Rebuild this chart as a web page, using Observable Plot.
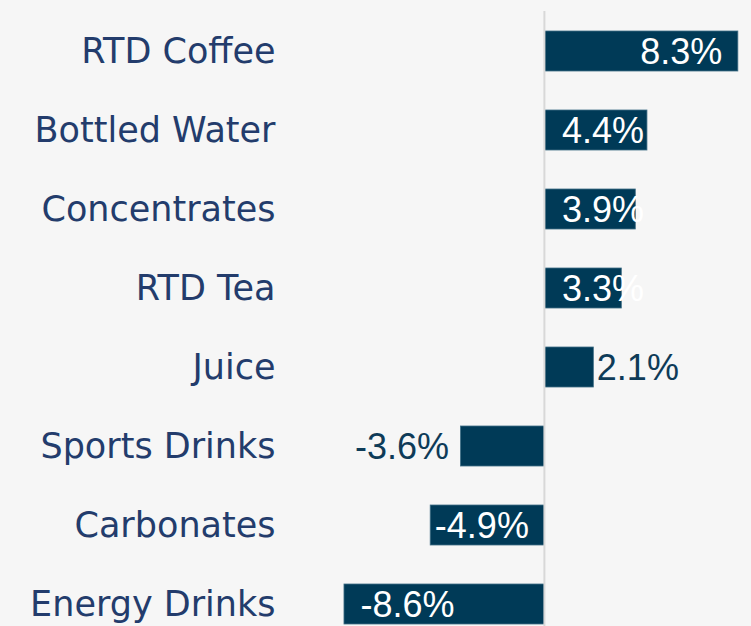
<!DOCTYPE html>
<html>
<head>
<meta charset="utf-8">
<script src="https://cdn.jsdelivr.net/npm/d3@7"></script>
<script src="https://cdn.jsdelivr.net/npm/@observablehq/plot@0.6"></script>
<style>
  html, body { margin: 0; padding: 0; background: #f6f6f6; overflow: hidden; }
  #chart { width: 751px; height: 626px; overflow: hidden; }
  #chart svg { display: block; background: transparent; }
</style>
</head>
<body>
<div id="chart"></div>
<script>
const categories = ["RTD Coffee", "Bottled Water", "Concentrates", "RTD Tea", "Juice", "Sports Drinks", "Carbonates", "Energy Drinks"];
const values = [8.3, 4.4, 3.9, 3.3, 2.1, -3.6, -4.9, -8.6];
const valueLabels = ["8.3%", "4.4%", "3.9%", "3.3%", "2.1%", "-3.6%", "-4.9%", "-8.6%"];

const data = categories.map((c, i) => ({category: c, value: values[i], label: valueLabels[i]}));

const outsideSet = new Set(["Juice", "Sports Drinks"]);
const fits = d => Math.abs(d.value) > 6;
const posInsideFit = data.filter(d => !outsideSet.has(d.category) && d.value > 0 && fits(d));
const posInsideClamp = data.filter(d => !outsideSet.has(d.category) && d.value > 0 && !fits(d));
const negInsideFit = data.filter(d => !outsideSet.has(d.category) && d.value < 0 && fits(d));
const negInsideClamp = data.filter(d => !outsideSet.has(d.category) && d.value < 0 && !fits(d));
const posOutside = data.filter(d => outsideSet.has(d.category) && d.value > 0);
const negOutside = data.filter(d => outsideSet.has(d.category) && d.value < 0);

const barColor = "#003a57";
const valFont = "Liberation Sans, DejaVu Sans, sans-serif";
const valSize = 36;
const common = {y: "category", text: "label", fontSize: valSize, fontFamily: valFont, dy: 1};

const chart = Plot.plot({
  width: 751,
  height: 643,
  marginTop: 11,
  marginBottom: 0,
  marginLeft: 323,
  marginRight: 8.5,
  style: {background: "transparent", fontFamily: "DejaVu Sans, sans-serif"},
  x: {domain: [-9.5, 8.5], axis: null},
  y: {domain: categories, paddingInner: 0.5, paddingOuter: 0.25, label: null},
  marks: [
    Plot.axisY({tickSize: 0, tickPadding: 48, fontSize: 35, fill: "#233c6c", fontWeight: 400, label: null}),
    Plot.barX(data, {x: "value", y: "category", fill: barColor, stroke: "#3f6e86", strokeWidth: 0.8}),
    Plot.ruleX([0], {stroke: "#d8d8d8", strokeWidth: 2, dx: -0.5}),
    Plot.text(posInsideFit, {...common, x: "value", textAnchor: "end", dx: -16, fill: "white"}),
    Plot.text(posInsideClamp, {...common, x: () => 0, textAnchor: "start", dx: 17, fill: "white"}),
    Plot.text(negInsideFit, {...common, x: "value", textAnchor: "start", dx: 16, fill: "white"}),
    Plot.text(negInsideClamp, {...common, x: () => 0, textAnchor: "end", dx: -16, fill: "white"}),
    Plot.text(posOutside, {...common, x: "value", textAnchor: "start", dx: 3, fill: "#0e3b58"}),
    Plot.text(negOutside, {...common, x: "value", textAnchor: "end", dx: -12, fill: "#0e3b58"})
  ]
});
document.getElementById("chart").appendChild(chart);
</script>
</body>
</html>
